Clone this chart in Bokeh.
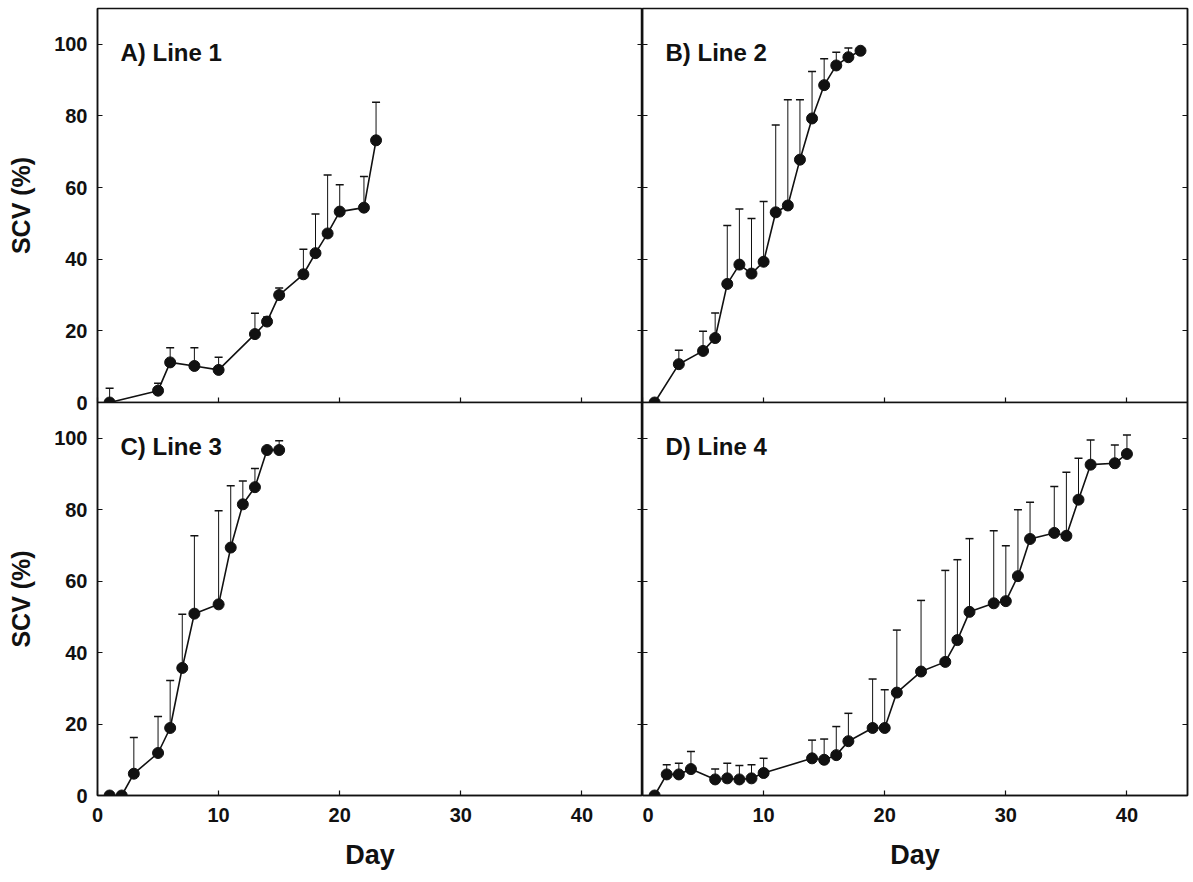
from bokeh.plotting import figure
from bokeh.layouts import column, row
from bokeh.models import ColumnDataSource, Whisker, TeeHead, LinearAxis, Label, FixedTicker, Range1d
from bokeh.embed import file_html
from bokeh.resources import INLINE

# ---------------- data ----------------
day_ticks = [0, 10, 20, 30, 40]
scv_ticks = [0, 20, 40, 60, 80, 100]

titles = ["A) Line 1", "B) Line 2", "C) Line 3", "D) Line 4"]

days1 = [1, 5, 6, 8, 10, 13, 14, 15, 17, 18, 19, 20, 22, 23]
scv1 = [0, 3.3, 11.2, 10.2, 9.1, 19.1, 22.6, 30.0, 35.8, 41.7, 47.2, 53.3, 54.4, 73.2]
sd1 = [4.0, 2.1, 4.1, 5.1, 3.5, 5.8, 1.3, 2.0, 7.0, 10.9, 16.3, 7.5, 8.7, 10.6]

days2 = [1, 3, 5, 6, 7, 8, 9, 10, 11, 12, 13, 14, 15, 16, 17, 18]
scv2 = [0, 10.7, 14.4, 18.0, 33.1, 38.5, 36.0, 39.3, 53.1, 55.0, 67.8, 79.3, 88.6, 94.1, 96.4, 98.2]
sd2 = [0, 3.9, 5.5, 7.0, 16.3, 15.5, 15.4, 16.8, 24.4, 29.5, 16.7, 13.1, 7.4, 3.7, 2.6, 0.7]

days3 = [1, 2, 3, 5, 6, 7, 8, 10, 11, 12, 13, 14, 15]
scv3 = [0, 0, 6.1, 11.9, 18.9, 35.7, 50.9, 53.5, 69.4, 81.5, 86.3, 96.7, 96.7]
sd3 = [0, 0, 10.1, 10.2, 13.3, 15.0, 21.8, 26.2, 17.3, 6.5, 5.2, 0, 2.6]

days4 = [1, 2, 3, 4, 6, 7, 8, 9, 10, 14, 15, 16, 17, 19, 20, 21, 23, 25, 26, 27,
         29, 30, 31, 32, 34, 35, 36, 37, 39, 40]
scv4 = [0, 5.9, 5.9, 7.4, 4.5, 4.8, 4.5, 4.8, 6.3, 10.4, 10.0, 11.3, 15.2, 18.9, 18.9,
        28.8, 34.7, 37.4, 43.5, 51.4, 53.8, 54.4, 61.4, 71.8, 73.5, 72.7, 82.8, 92.6, 93.0, 95.6]
sd4 = [0, 2.7, 3.1, 4.9, 2.9, 4.2, 3.9, 3.8, 4.1, 5.1, 5.8, 8.0, 7.8, 13.7, 10.7,
       17.5, 19.9, 25.6, 22.5, 20.5, 20.3, 15.5, 18.6, 10.3, 13.0, 17.8, 11.6, 6.9, 5.1, 5.3]

# ---------------- style ----------------
FONT = "Liberation Sans"
INK = "#111111"
FRAME_W = 545
LEFT_B = 97
OVERLAP = 12


def hide_labels(ax):
    ax.major_label_text_font_size = "0px"
    ax.major_label_text_color = None
    ax.major_label_standoff = 0


def make_panel(days, scv, sd, title, left_labels, top_panel):
    bottom_labels = not top_panel
    p = figure(
        frame_width=FRAME_W,
        frame_height=394 if top_panel else 393,
        x_range=Range1d(0, 45), y_range=Range1d(0, 110),
        output_backend="svg", toolbar_location=None,
        min_border_left=LEFT_B if left_labels else 0,
        min_border_right=0 if left_labels else 3,
        min_border_top=8 if top_panel else 0,
        min_border_bottom=OVERLAP if top_panel else 82,
        background_fill_color="white", border_fill_color="white",
    )
    if not top_panel:
        p.border_fill_alpha = 0
        p.margin = (-OVERLAP, 0, 0, 0)
    p.grid.visible = False
    p.outline_line_color = INK
    p.outline_line_width = 1.5

    p.add_layout(LinearAxis(), "right")

    for ax in p.yaxis:
        ax.ticker = FixedTicker(ticks=scv_ticks)
    for ax in p.xaxis:
        ax.ticker = FixedTicker(ticks=day_ticks)

    for ax in list(p.xaxis) + list(p.yaxis):
        ax.major_tick_in = 5
        ax.major_tick_out = 0
        ax.minor_tick_line_color = None
        ax.axis_line_color = INK
        ax.axis_line_width = 1.5
        ax.major_tick_line_color = INK
        ax.major_tick_line_width = 1.2
        ax.major_label_text_font = FONT
        ax.major_label_text_font_style = "bold"
        ax.major_label_text_font_size = "20px"
        ax.major_label_text_color = INK
        ax.axis_label_text_font = FONT
        ax.axis_label_text_font_style = "bold"
        ax.axis_label_text_color = INK

    yl = p.yaxis[0]
    yr = p.yaxis[1]
    hide_labels(yr)
    if left_labels:
        yl.axis_label = "SCV (%)"
        yl.axis_label_text_font_size = "25px"
        yl.axis_label_standoff = 16
        yl.major_label_standoff = 10
    else:
        hide_labels(yl)

    xb = p.xaxis[0]
    if bottom_labels:
        xb.axis_label = "Day"
        xb.axis_label_text_font_size = "27px"
        xb.major_label_standoff = 12
        xb.axis_label_standoff = 15
    else:
        hide_labels(xb)

    upper = [v + e for v, e in zip(scv, sd)]
    src = ColumnDataSource(dict(x=days, y=scv, upper=upper))
    w = Whisker(base="x", upper="upper", lower="y", source=src, dimension="height",
                line_color=INK, line_width=1,
                upper_head=TeeHead(size=8, line_color=INK, line_width=1.5),
                lower_head=None, level="underlay")
    p.add_layout(w)
    p.line("x", "y", source=src, line_color=INK, line_width=1.6)
    p.scatter("x", "y", source=src, size=11, fill_color=INK, line_color=INK)

    p.add_layout(Label(x=1.9, y=97.8, text=title, text_font=FONT, text_font_size="24px",
                       text_font_style="bold", text_baseline="alphabetic", text_color=INK))
    return p


p1 = make_panel(days1, scv1, sd1, titles[0], True, True)
p2 = make_panel(days2, scv2, sd2, titles[1], False, True)
p3 = make_panel(days3, scv3, sd3, titles[2], True, False)
p4 = make_panel(days4, scv4, sd4, titles[3], False, False)

layout = column(row(p1, p2), row(p3, p4))

open("out.html", "w").write(file_html(layout, INLINE))
